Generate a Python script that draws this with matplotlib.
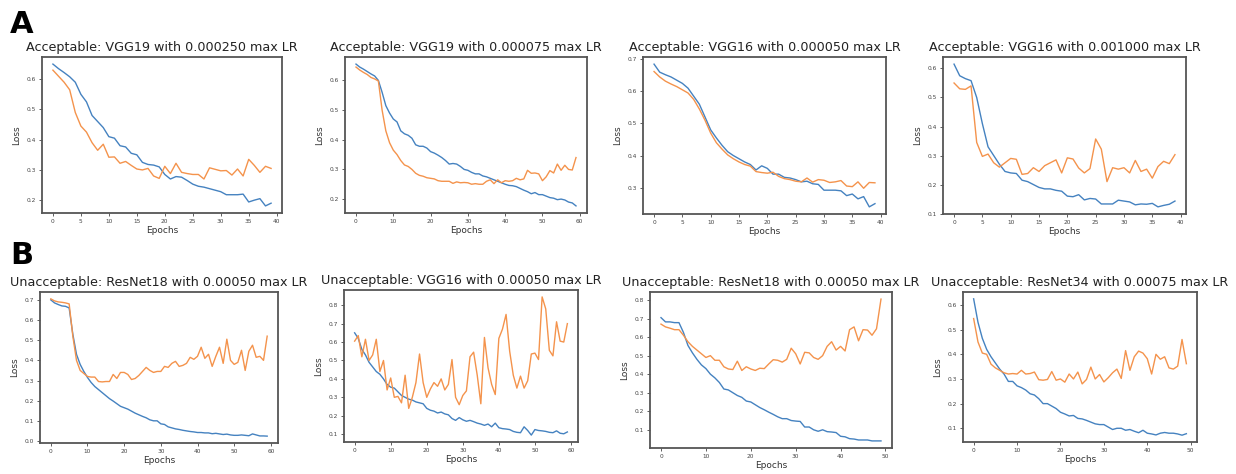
import matplotlib
matplotlib.use("Agg")
import matplotlib.pyplot as plt

# loss curves per run (train = blue, validation = orange)
a1_train = [0.65, 0.635, 0.622, 0.608, 0.59, 0.55, 0.525, 0.48, 0.46, 0.44, 0.41, 0.405, 0.38, 0.376, 0.355, 0.35,
            0.325, 0.318, 0.316, 0.31, 0.285, 0.27, 0.278, 0.276, 0.265, 0.253, 0.246, 0.243, 0.238, 0.233, 0.228,
            0.218, 0.218, 0.218, 0.22, 0.194, 0.2, 0.205, 0.181, 0.19]
a1_val = [0.63, 0.61, 0.59, 0.565, 0.49, 0.445, 0.425, 0.39, 0.365, 0.385, 0.342, 0.343, 0.322, 0.328, 0.315, 0.303,
          0.3, 0.305, 0.28, 0.272, 0.312, 0.288, 0.322, 0.292, 0.288, 0.285, 0.285, 0.27, 0.307, 0.302, 0.297, 0.298,
          0.283, 0.303, 0.28, 0.335, 0.315, 0.292, 0.312, 0.305]

a2_train = [0.655, 0.645, 0.638, 0.63, 0.622, 0.615, 0.6, 0.56, 0.515, 0.49, 0.47, 0.46, 0.43, 0.42, 0.415, 0.405,
            0.383, 0.378, 0.378, 0.372, 0.36, 0.355, 0.348, 0.34, 0.33, 0.318, 0.32, 0.318, 0.31, 0.3, 0.297, 0.29,
            0.285, 0.285, 0.278, 0.275, 0.27, 0.265, 0.26, 0.255, 0.25, 0.246, 0.245, 0.242, 0.236, 0.23, 0.225,
            0.218, 0.222, 0.215, 0.215, 0.21, 0.205, 0.203, 0.198, 0.2, 0.197, 0.19, 0.187, 0.177]
a2_val = [0.645, 0.635, 0.627, 0.62, 0.61, 0.605, 0.598, 0.5, 0.43, 0.39, 0.365, 0.35, 0.33, 0.315, 0.31, 0.3, 0.287,
          0.28, 0.277, 0.272, 0.27, 0.268, 0.262, 0.26, 0.26, 0.26, 0.253, 0.258, 0.255, 0.256, 0.255, 0.25, 0.252,
          0.25, 0.25, 0.26, 0.265, 0.252, 0.265, 0.255, 0.262, 0.26, 0.262, 0.27, 0.265, 0.268, 0.297, 0.287, 0.288,
          0.285, 0.262, 0.275, 0.296, 0.288, 0.318, 0.297, 0.314, 0.3, 0.298, 0.34]

a3_train = [0.685, 0.66, 0.652, 0.645, 0.635, 0.625, 0.61, 0.585, 0.56, 0.52, 0.48, 0.455, 0.432, 0.412, 0.4, 0.39,
            0.38, 0.372, 0.355, 0.368, 0.36, 0.342, 0.342, 0.332, 0.33, 0.325, 0.318, 0.32, 0.312, 0.31, 0.292,
            0.292, 0.292, 0.29, 0.275, 0.28, 0.265, 0.272, 0.24, 0.25]
a3_val = [0.662, 0.645, 0.632, 0.623, 0.615, 0.605, 0.595, 0.575, 0.545, 0.51, 0.47, 0.44, 0.42, 0.402, 0.39, 0.38,
          0.372, 0.367, 0.35, 0.347, 0.345, 0.348, 0.335, 0.328, 0.325, 0.32, 0.318, 0.33, 0.317, 0.325, 0.323,
          0.316, 0.318, 0.322, 0.305, 0.303, 0.318, 0.298, 0.316, 0.315]

a4_train = [0.615, 0.575, 0.565, 0.558, 0.5, 0.41, 0.33, 0.3, 0.27, 0.245, 0.24, 0.238, 0.215, 0.21, 0.2, 0.19,
            0.185, 0.185, 0.18, 0.177, 0.16, 0.158, 0.165, 0.147, 0.152, 0.15, 0.133, 0.133, 0.133, 0.146, 0.143,
            0.14, 0.13, 0.133, 0.132, 0.135, 0.123, 0.128, 0.132, 0.143]
a4_val = [0.55, 0.53, 0.528, 0.54, 0.345, 0.297, 0.305, 0.275, 0.26, 0.275, 0.29, 0.287, 0.235, 0.238, 0.258, 0.245,
          0.265, 0.275, 0.285, 0.24, 0.292, 0.288, 0.257, 0.24, 0.255, 0.357, 0.322, 0.21, 0.258, 0.253, 0.258,
          0.24, 0.283, 0.245, 0.253, 0.222, 0.262, 0.28, 0.272, 0.303]

b1_train = [0.7, 0.685, 0.677, 0.67, 0.668, 0.66, 0.53, 0.43, 0.38, 0.345, 0.315, 0.29, 0.27, 0.255, 0.24, 0.225,
            0.21, 0.198, 0.185, 0.172, 0.165, 0.158, 0.148, 0.138, 0.13, 0.122, 0.115, 0.105, 0.1, 0.1, 0.085,
            0.082, 0.07, 0.065, 0.06, 0.057, 0.053, 0.05, 0.047, 0.045, 0.042, 0.042, 0.04, 0.04, 0.036, 0.038,
            0.035, 0.032, 0.034, 0.03, 0.028, 0.028, 0.03, 0.028, 0.026, 0.035, 0.03, 0.025, 0.025, 0.024]
b1_val = [0.705, 0.695, 0.69, 0.688, 0.685, 0.68, 0.52, 0.4, 0.35, 0.335, 0.32, 0.317, 0.317, 0.295, 0.293, 0.295,
          0.295, 0.33, 0.31, 0.34, 0.34, 0.33, 0.305, 0.31, 0.325, 0.345, 0.365, 0.35, 0.34, 0.345, 0.345, 0.37,
          0.365, 0.385, 0.395, 0.37, 0.375, 0.385, 0.415, 0.405, 0.42, 0.465, 0.41, 0.43, 0.37, 0.42, 0.465, 0.385,
          0.505, 0.4, 0.38, 0.39, 0.45, 0.35, 0.445, 0.475, 0.415, 0.42, 0.4, 0.52]

b2_train = [0.65, 0.62, 0.56, 0.53, 0.49, 0.465, 0.44, 0.425, 0.4, 0.37, 0.355, 0.35, 0.33, 0.31, 0.3, 0.29, 0.285,
            0.275, 0.27, 0.265, 0.24, 0.23, 0.225, 0.215, 0.22, 0.21, 0.205, 0.185, 0.175, 0.19, 0.178, 0.17,
            0.175, 0.168, 0.16, 0.155, 0.148, 0.155, 0.14, 0.16, 0.135, 0.13, 0.128, 0.125, 0.115, 0.11, 0.108,
            0.14, 0.12, 0.095, 0.125, 0.12, 0.118, 0.115, 0.11, 0.108, 0.118, 0.105, 0.102, 0.112]
b2_val = [0.605, 0.635, 0.52, 0.615, 0.5, 0.53, 0.615, 0.44, 0.5, 0.34, 0.405, 0.3, 0.305, 0.27, 0.42, 0.24, 0.3,
          0.38, 0.535, 0.38, 0.3, 0.345, 0.38, 0.36, 0.4, 0.34, 0.37, 0.505, 0.3, 0.26, 0.31, 0.335, 0.52, 0.545,
          0.42, 0.265, 0.625, 0.46, 0.37, 0.315, 0.62, 0.67, 0.75, 0.55, 0.42, 0.35, 0.415, 0.35, 0.39, 0.535,
          0.54, 0.505, 0.845, 0.78, 0.555, 0.525, 0.71, 0.605, 0.6, 0.7]

b3_train = [0.705, 0.682, 0.682, 0.678, 0.678, 0.625, 0.555, 0.515, 0.48, 0.45, 0.43, 0.4, 0.38, 0.355, 0.32, 0.315,
            0.3, 0.285, 0.275, 0.255, 0.25, 0.235, 0.22, 0.208, 0.195, 0.183, 0.17, 0.16, 0.16, 0.15, 0.147, 0.145,
            0.115, 0.115, 0.1, 0.092, 0.1, 0.09, 0.088, 0.085, 0.065, 0.062, 0.052, 0.05, 0.045, 0.045, 0.045,
            0.04, 0.04, 0.04]
b3_val = [0.67, 0.655, 0.648, 0.64, 0.64, 0.61, 0.575, 0.55, 0.53, 0.51, 0.49, 0.5, 0.475, 0.475, 0.44, 0.428,
          0.425, 0.47, 0.42, 0.44, 0.428, 0.42, 0.432, 0.43, 0.455, 0.478, 0.475, 0.465, 0.48, 0.54, 0.51, 0.455,
          0.518, 0.515, 0.49, 0.48, 0.5, 0.55, 0.575, 0.53, 0.55, 0.525, 0.64, 0.655, 0.58, 0.64, 0.638, 0.61,
          0.645, 0.805]

b4_train = [0.625, 0.53, 0.465, 0.42, 0.39, 0.365, 0.34, 0.32, 0.29, 0.29, 0.272, 0.265, 0.255, 0.24, 0.235, 0.22,
            0.2, 0.2, 0.19, 0.18, 0.165, 0.158, 0.15, 0.152, 0.14, 0.138, 0.132, 0.125, 0.118, 0.115, 0.115, 0.105,
            0.095, 0.1, 0.1, 0.092, 0.095, 0.088, 0.082, 0.092, 0.08, 0.077, 0.073, 0.08, 0.083, 0.08, 0.08, 0.077,
            0.072, 0.078]
b4_val = [0.545, 0.45, 0.405, 0.4, 0.36, 0.345, 0.335, 0.325, 0.32, 0.322, 0.32, 0.335, 0.32, 0.322, 0.328, 0.297,
          0.295, 0.298, 0.33, 0.295, 0.3, 0.287, 0.32, 0.3, 0.328, 0.28, 0.298, 0.348, 0.3, 0.318, 0.288, 0.305,
          0.325, 0.34, 0.302, 0.415, 0.335, 0.39, 0.413, 0.405, 0.382, 0.32, 0.4, 0.38, 0.39, 0.345, 0.34, 0.352,
          0.46, 0.362]

titles = [
    "Acceptable: VGG19 with 0.000250 max LR",
    "Acceptable: VGG19 with 0.000075 max LR",
    "Acceptable: VGG16 with 0.000050 max LR",
    "Acceptable: VGG16 with 0.001000 max LR",
    "Unacceptable: ResNet18 with 0.00050 max LR",
    "Unacceptable: VGG16 with 0.00050 max LR",
    "Unacceptable: ResNet18 with 0.00050 max LR",
    "Unacceptable: ResNet34 with 0.00075 max LR",
]
runs = [(a1_train, a1_val), (a2_train, a2_val), (a3_train, a3_val), (a4_train, a4_val),
        (b1_train, b1_val), (b2_train, b2_val), (b3_train, b3_val), (b4_train, b4_val)]

W, H = 1236, 474
# axes boxes in pixels: left, right, top, bottom
boxes = [(42, 282, 57, 213), (345, 587, 57, 213), (643, 886, 57, 214), (943, 1186, 57, 214),
         (40, 278, 292, 443), (344, 578, 290, 442), (650, 892, 292, 448), (963, 1197, 292, 442)]

fig = plt.figure(figsize=(W / 100, H / 100), dpi=100)

for (l, r, t, b), title, (train, val) in zip(boxes, titles, runs):
    ax = fig.add_axes([l / W, 1 - b / H, (r - l) / W, (b - t) / H])
    ax.plot(range(len(train)), train, color="#4582c0", lw=1.0)
    ax.plot(range(len(val)), val, color="#f4934c", lw=1.0)
    ax.set_title(title, fontsize=9.2, pad=4, color="#222222")
    ax.set_xlabel("Epochs", fontsize=6.5, labelpad=1.5, color="#333333")
    ax.set_ylabel("Loss", fontsize=6.5, labelpad=3.5, color="#333333")
    ax.tick_params(labelsize=4.2, length=2, width=0.6, pad=2.5, colors="#444444")
    for s in ax.spines.values():
        s.set_linewidth(1.3)
        s.set_color("#555555")

fig.text(10 / W, 1 - 33 / H, "A", fontsize=22, fontweight="bold")
fig.text(10 / W, 1 - 264 / H, "B", fontsize=22, fontweight="bold")

plt.savefig("out.png", dpi=100)
